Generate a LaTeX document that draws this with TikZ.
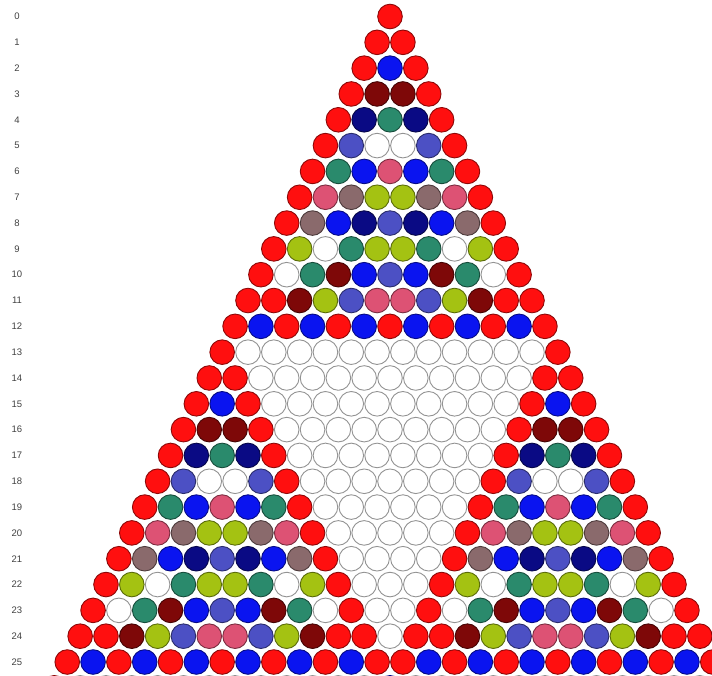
\documentclass[tikz,border=0pt]{standalone}
\usepackage{fontspec}
\setmainfont{Liberation Sans}
\definecolor{col0}{HTML}{FFFFFF}
\definecolor{col1}{HTML}{FF0F0F}
\definecolor{col2}{HTML}{0A14F0}
\definecolor{col3}{HTML}{7E0808}
\definecolor{col4}{HTML}{0A0A84}
\definecolor{col5}{HTML}{4C50C4}
\definecolor{col6}{HTML}{2A8A6C}
\definecolor{col7}{HTML}{DD5274}
\definecolor{col8}{HTML}{8A6A6C}
\definecolor{col9}{HTML}{A4C212}
\definecolor{col10}{HTML}{FFFFFF}
\definecolor{col11}{HTML}{FF0F0F}
\definecolor{col12}{HTML}{0A14F0}
\definecolor{labcol}{HTML}{404040}
\tikzset{
  ball/.style={circle, minimum size=24.6pt, inner sep=0pt, line width=0.9pt},
  rowlab/.style={font=\fontsize{9.5}{11}\selectfont, text=labcol, inner sep=0pt}
}
\begin{document}
\begin{tikzpicture}[x=1pt,y=1pt]
\useasboundingbox (0,0) rectangle (712,-675);
\clip (0,0) rectangle (712,-675);
\foreach \n in {0,...,26}{
  \foreach \k in {0,...,\n}{
    \ifnum\k=0 \def\v{1}\else\ifnum\k=\n \def\v{1}\else
      \edef\np{\the\numexpr\n-1\relax}%
      \edef\kp{\the\numexpr\k-1\relax}%
      \edef\v{\the\numexpr\csname pv\np-\kp\endcsname+\csname pv\np-\k\endcsname\relax}%
      \ifnum\v>12 \edef\v{\the\numexpr\v-13\relax}\fi
    \fi\fi
    \expandafter\xdef\csname pv\n-\k\endcsname{\v}%
    \ifnum\v=0 \def\dc{gray!85}\else\ifnum\v=10 \def\dc{gray!85}\else\edef\dc{col\v!55!black}\fi\fi
    \pgfmathsetmacro\xx{390+(\k-\n/2)*25.82}
    \pgfmathsetmacro\yy{-(16.5+25.82*\n)}
    \node[ball, fill=col\v, draw=\dc] (c-\n-\k) at (\xx,\yy) {};
  }
}
\foreach \n in {0,...,25}{
  \pgfmathsetmacro\yy{-(16.5+25.82*\n)}
  \node[rowlab] (l-\n) at (17,\yy) {\n};
}
\end{tikzpicture}
\end{document}
